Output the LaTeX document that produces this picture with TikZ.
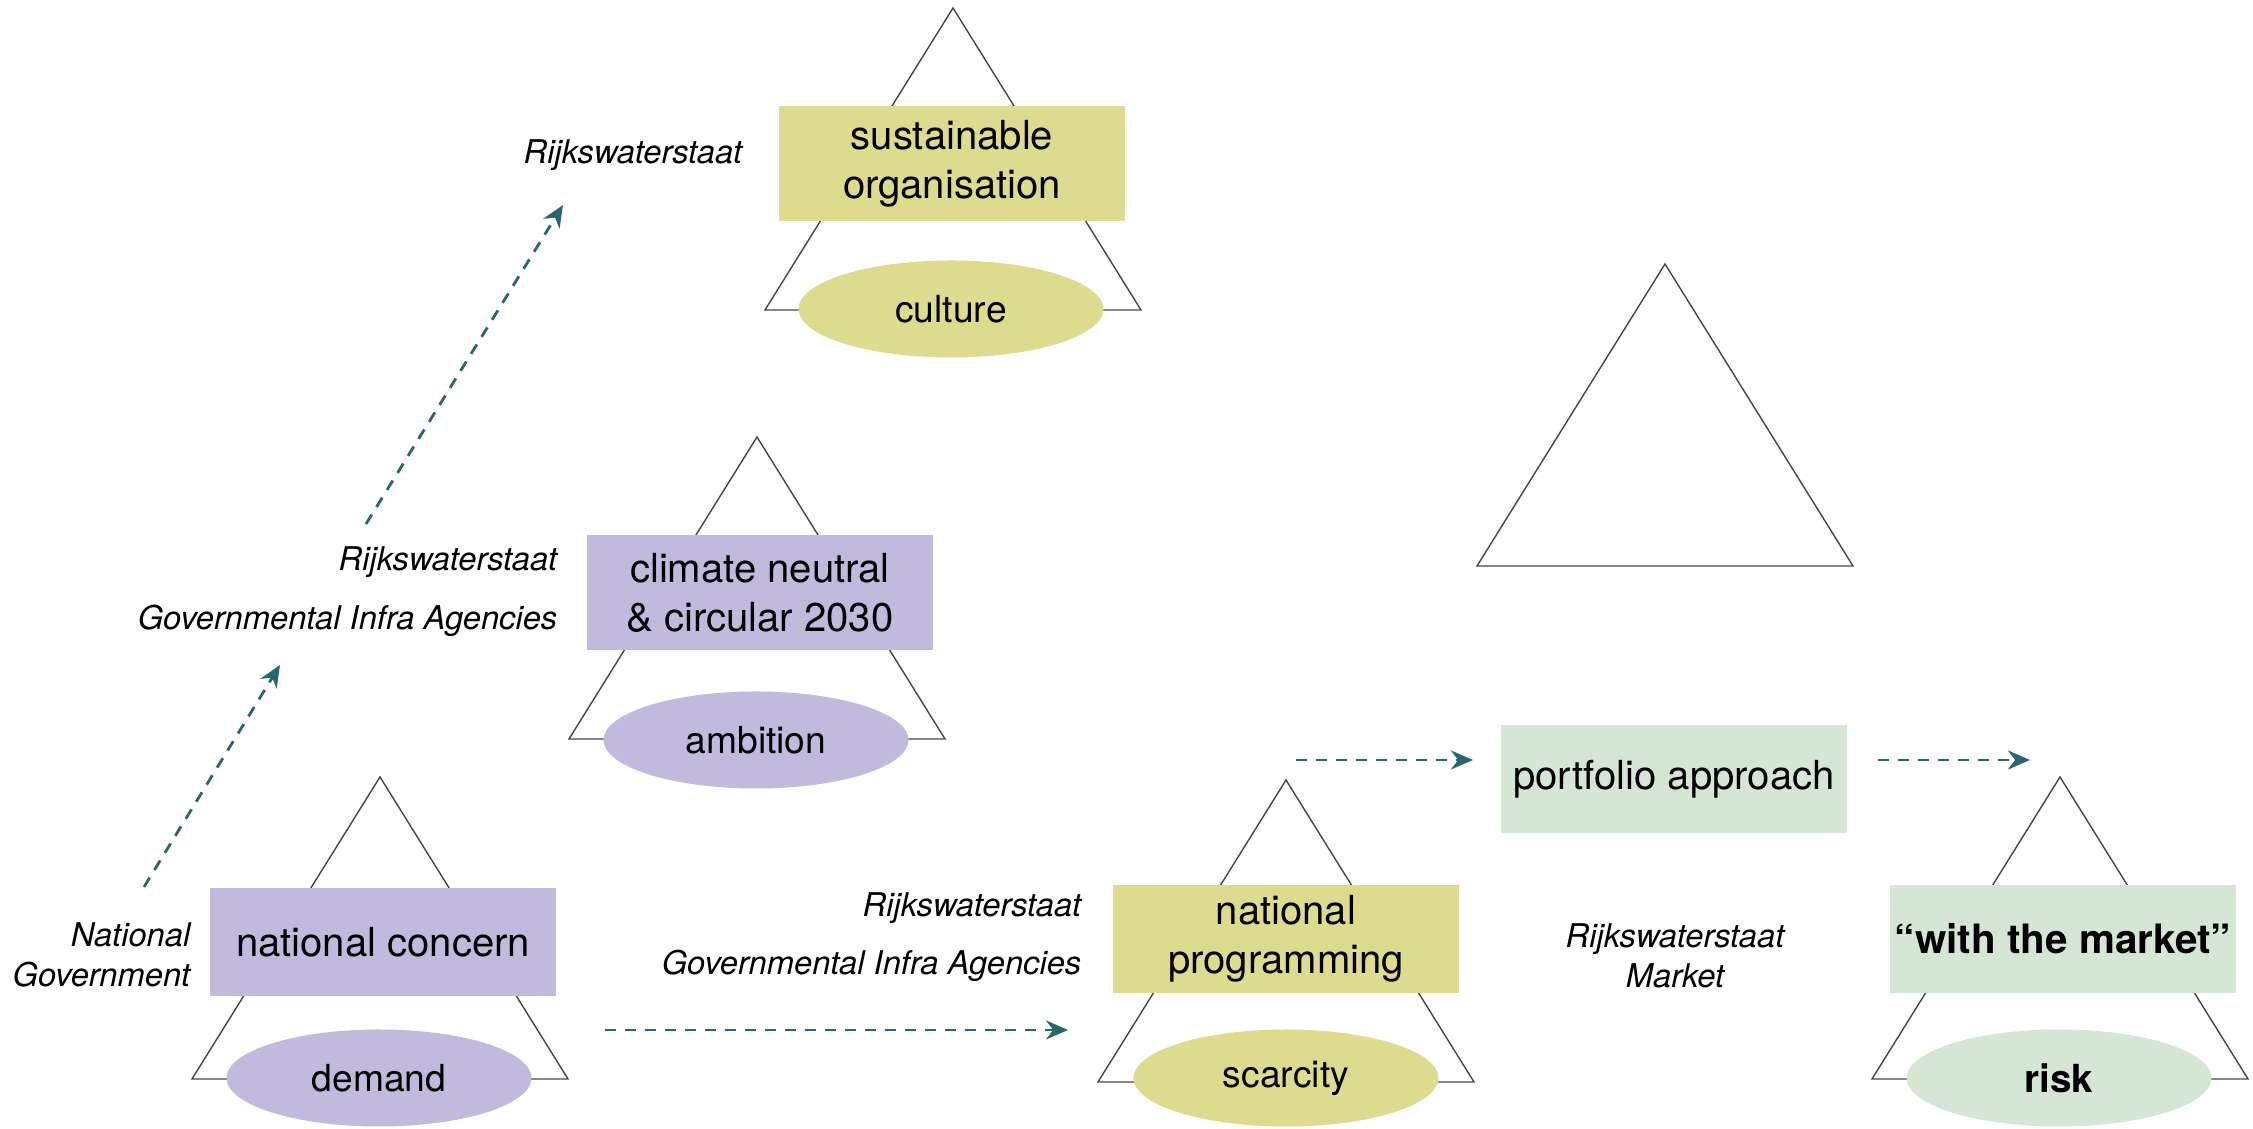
\documentclass[tikz,border=0pt]{standalone}
\usepackage{fontspec}
\setmainfont{TeX Gyre Heros}
\usetikzlibrary{arrows.meta,shapes.geometric}
\definecolor{lav}{RGB}{193,186,221}
\definecolor{straw}{RGB}{221,219,142}
\definecolor{mint}{RGB}{213,231,212}
\definecolor{petrol}{RGB}{40,104,108}
\definecolor{ink}{RGB}{70,70,70}
\tikzset{
  >={Stealth[length=2.2mm,width=1.9mm]},
  box/.style={fill=#1,minimum width=3.46cm,minimum height=1.08cm,inner sep=1pt,
    align=center,font=\fontsize{11.4}{14}\selectfont},
  box/.default=lav,
  oval/.style={ellipse,fill=#1,minimum width=3.05cm,minimum height=0.97cm,inner sep=0pt,
    font=\fontsize{10.6}{13}\selectfont},
  oval/.default=lav,
  tag/.style={font=\fontsize{9.3}{11.5}\selectfont\itshape,inner sep=0pt},
  flow/.style={->,draw=petrol,line width=0.8pt,dash pattern=on 1.1mm off 0.9mm},
  % bare triangle
  pics/tri/.style={code={
    \draw[ink,line width=0.4pt] (-1.88,0) -- (0,3.02) -- (1.88,0) -- cycle;
  }},
}
\begin{document}
\begin{tikzpicture}
  \useasboundingbox (0,0) rectangle (22.53,11.29);
  % triangles first, the boxes sit on top
  \pic at (3.80,0.50) {tri};
  \pic at (7.57,3.90) {tri};
  \pic at (9.53,8.19) {tri};
  \pic at (12.86,0.47) {tri};
  \pic at (16.65,5.63) {tri};
  \pic at (20.60,0.50) {tri};
  % national level
  \node[box] (concern) at (3.83,1.87) {national concern};
  \node[oval] (demand) at (3.79,0.51) {demand};
  \node[tag,anchor=east,align=right] (natgov) at (1.91,1.74) {National\\Government};
  % climate ambition
  \node[box,minimum height=1.15cm] (climate) at (7.60,5.36) {climate neutral\\\& circular 2030};
  \node[oval] (ambition) at (7.56,3.89) {ambition};
  \node[tag,anchor=east] (rws2) at (5.58,5.67) {Rijkswaterstaat};
  \node[tag,anchor=east] (gia2) at (5.58,5.08) {Governmental Infra Agencies};
  % organisation
  \node[box=straw,minimum height=1.15cm] (sustain) at (9.52,9.65) {sustainable\\organisation};
  \node[oval=straw] (culture) at (9.51,8.20) {culture};
  \node[tag,anchor=east] (rws3) at (7.43,9.74) {Rijkswaterstaat};
  % programming
  \node[box=straw] (program) at (12.86,1.90) {national\\programming};
  \node[oval=straw] (scarcity) at (12.86,0.51) {scarcity};
  \node[tag,anchor=east] (rws4) at (10.82,2.21) {Rijkswaterstaat};
  \node[tag,anchor=east] (gia4) at (10.82,1.63) {Governmental Infra Agencies};
  % market
  \node[box=mint] (portfolio) at (16.74,3.50) {portfolio approach};
  \node[tag,align=center] (rwsmkt) at (16.75,1.73) {Rijkswaterstaat\\Market};
  \node[box=mint,font=\fontsize{11.5}{13}\selectfont\bfseries] (market) at (20.63,1.90) {``with the market''};
  \node[oval=mint,font=\fontsize{11}{13}\selectfont\bfseries] (risk) at (20.59,0.51) {risk};
  % dashed flows
  \coordinate (up1s) at (1.44,2.42);
  \coordinate (up1e) at (2.80,4.64);
  \coordinate (up2s) at (3.66,6.05);
  \coordinate (up2e) at (5.63,9.24);
  \coordinate (lows) at (6.05,0.99);
  \coordinate (lowe) at (10.68,0.99);
  \coordinate (mid1s) at (12.96,3.69);
  \coordinate (mid1e) at (14.73,3.69);
  \coordinate (mid2s) at (18.78,3.69);
  \coordinate (mid2e) at (20.30,3.69);
  \draw[flow] (up1s) -- (up1e);
  \draw[flow] (up2s) -- (up2e);
  \draw[flow] (lows) -- (lowe);
  \draw[flow] (mid1s) -- (mid1e);
  \draw[flow] (mid2s) -- (mid2e);
\end{tikzpicture}
\end{document}
